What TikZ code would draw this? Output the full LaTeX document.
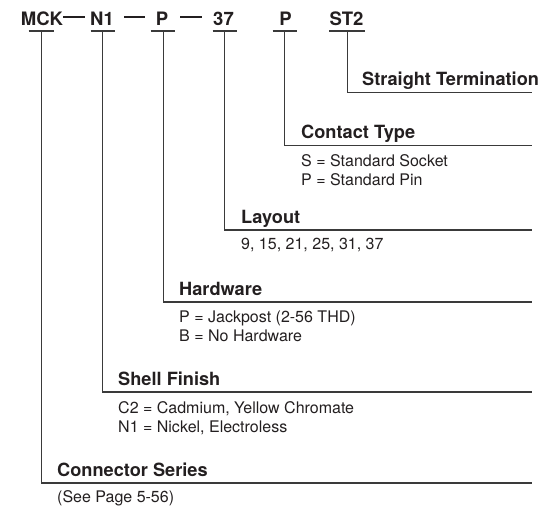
\documentclass[tikz,border=0pt]{standalone}
\usepackage{fontspec}
\setmainfont{TeX Gyre Heros}
\definecolor{ink}{HTML}{231F20}
\definecolor{lc}{HTML}{3A3A3A}
\begin{document}
\begin{tikzpicture}[x=1pt,y=-1pt,
  code/.style={font=\fontsize{18.5}{20}\selectfont\bfseries, inner sep=0pt, anchor=base, text=ink},
  head/.style={font=\fontsize{18.2}{20}\selectfont\bfseries, inner sep=0pt, anchor=base west, text=ink},
  sub/.style={font=\fontsize{16}{18}\selectfont, inner sep=0pt, anchor=base west, text=ink},
  ln/.style={line width=1.2pt, draw=lc},
  dashln/.style={line width=1.1pt, draw=ink}]
\useasboundingbox (0,0) rectangle (541,510);
% part-number codes
\node[code] (mck) at (42,26) {MCK};
\node[code] (n1) at (102,26) {N1};
\node[code] (p1) at (162,26) {P};
\node[code] (c37) at (223.5,26) {37};
\node[code] (p2) at (285.5,26) {P};
\node[code] (st2) at (346.5,26) {ST2};
% dashes between codes
\draw[dashln] (63,17) -- (85,17);
\draw[dashln] (124,17) -- (145,17);
\draw[dashln] (180,17) -- (202,17);
% underlines
\draw[ln] (28.5,31) -- (53.5,31);
\draw[ln] (90.5,31) -- (114.5,31);
\draw[ln] (150.5,31) -- (174.5,31);
\draw[ln] (212.5,31) -- (236.5,31);
\draw[ln] (272.5,31) -- (296.5,31);
\draw[ln] (329,31) -- (365,31);
% leader tops and ends
\coordinate (tcs) at (41.3,31);   \coordinate (ecs) at (532,483);
\coordinate (tsf) at (102.7,31);  \coordinate (esf) at (532,392);
\coordinate (thw) at (163.3,31);  \coordinate (ehw) at (532,302);
\coordinate (tla) at (224.3,31);  \coordinate (ela) at (532,230);
\coordinate (tct) at (284.7,31);  \coordinate (ect) at (532,145.5);
\coordinate (tst) at (347.3,31);  \coordinate (est) at (532,92.3);
\draw[ln] (tcs) |- (ecs);
\draw[ln] (tsf) |- (esf);
\draw[ln] (thw) |- (ehw);
\draw[ln] (tla) |- (ela);
\draw[ln] (tct) |- (ect);
\draw[ln] (tst) |- (est);
% headings
\node[head] (hst) at (362,85.5) {Straight Termination};
\node[head] (hct) at (301,139) {Contact Type};
\node[head] (hla) at (241,223.5) {Layout};
\node[head] (hhw) at (179,295.5) {Hardware};
\node[head] (hsf) at (118,385.5) {Shell Finish};
\node[head] (hcs) at (57,476.5) {Connector Series};
% descriptions
\node[sub] (dct1) at (301,166.5) {S = Standard Socket};
\node[sub] (dct2) at (301,185.2) {P = Standard Pin};
\node[sub] (dla) at (241,250) {9, 15, 21, 25, 31, 37};
\node[sub] (dhw1) at (179,323) {P = Jackpost (2-56 THD)};
\node[sub] (dhw2) at (179,341.7) {B = No Hardware};
\node[sub] (dsf1) at (118,413.5) {C2 = Cadmium, Yellow Chromate};
\node[sub] (dsf2) at (118,432.2) {N1 = Nickel, Electroless};
\node[sub] (dcs) at (57,502) {(See Page 5-56)};
\end{tikzpicture}
\end{document}
